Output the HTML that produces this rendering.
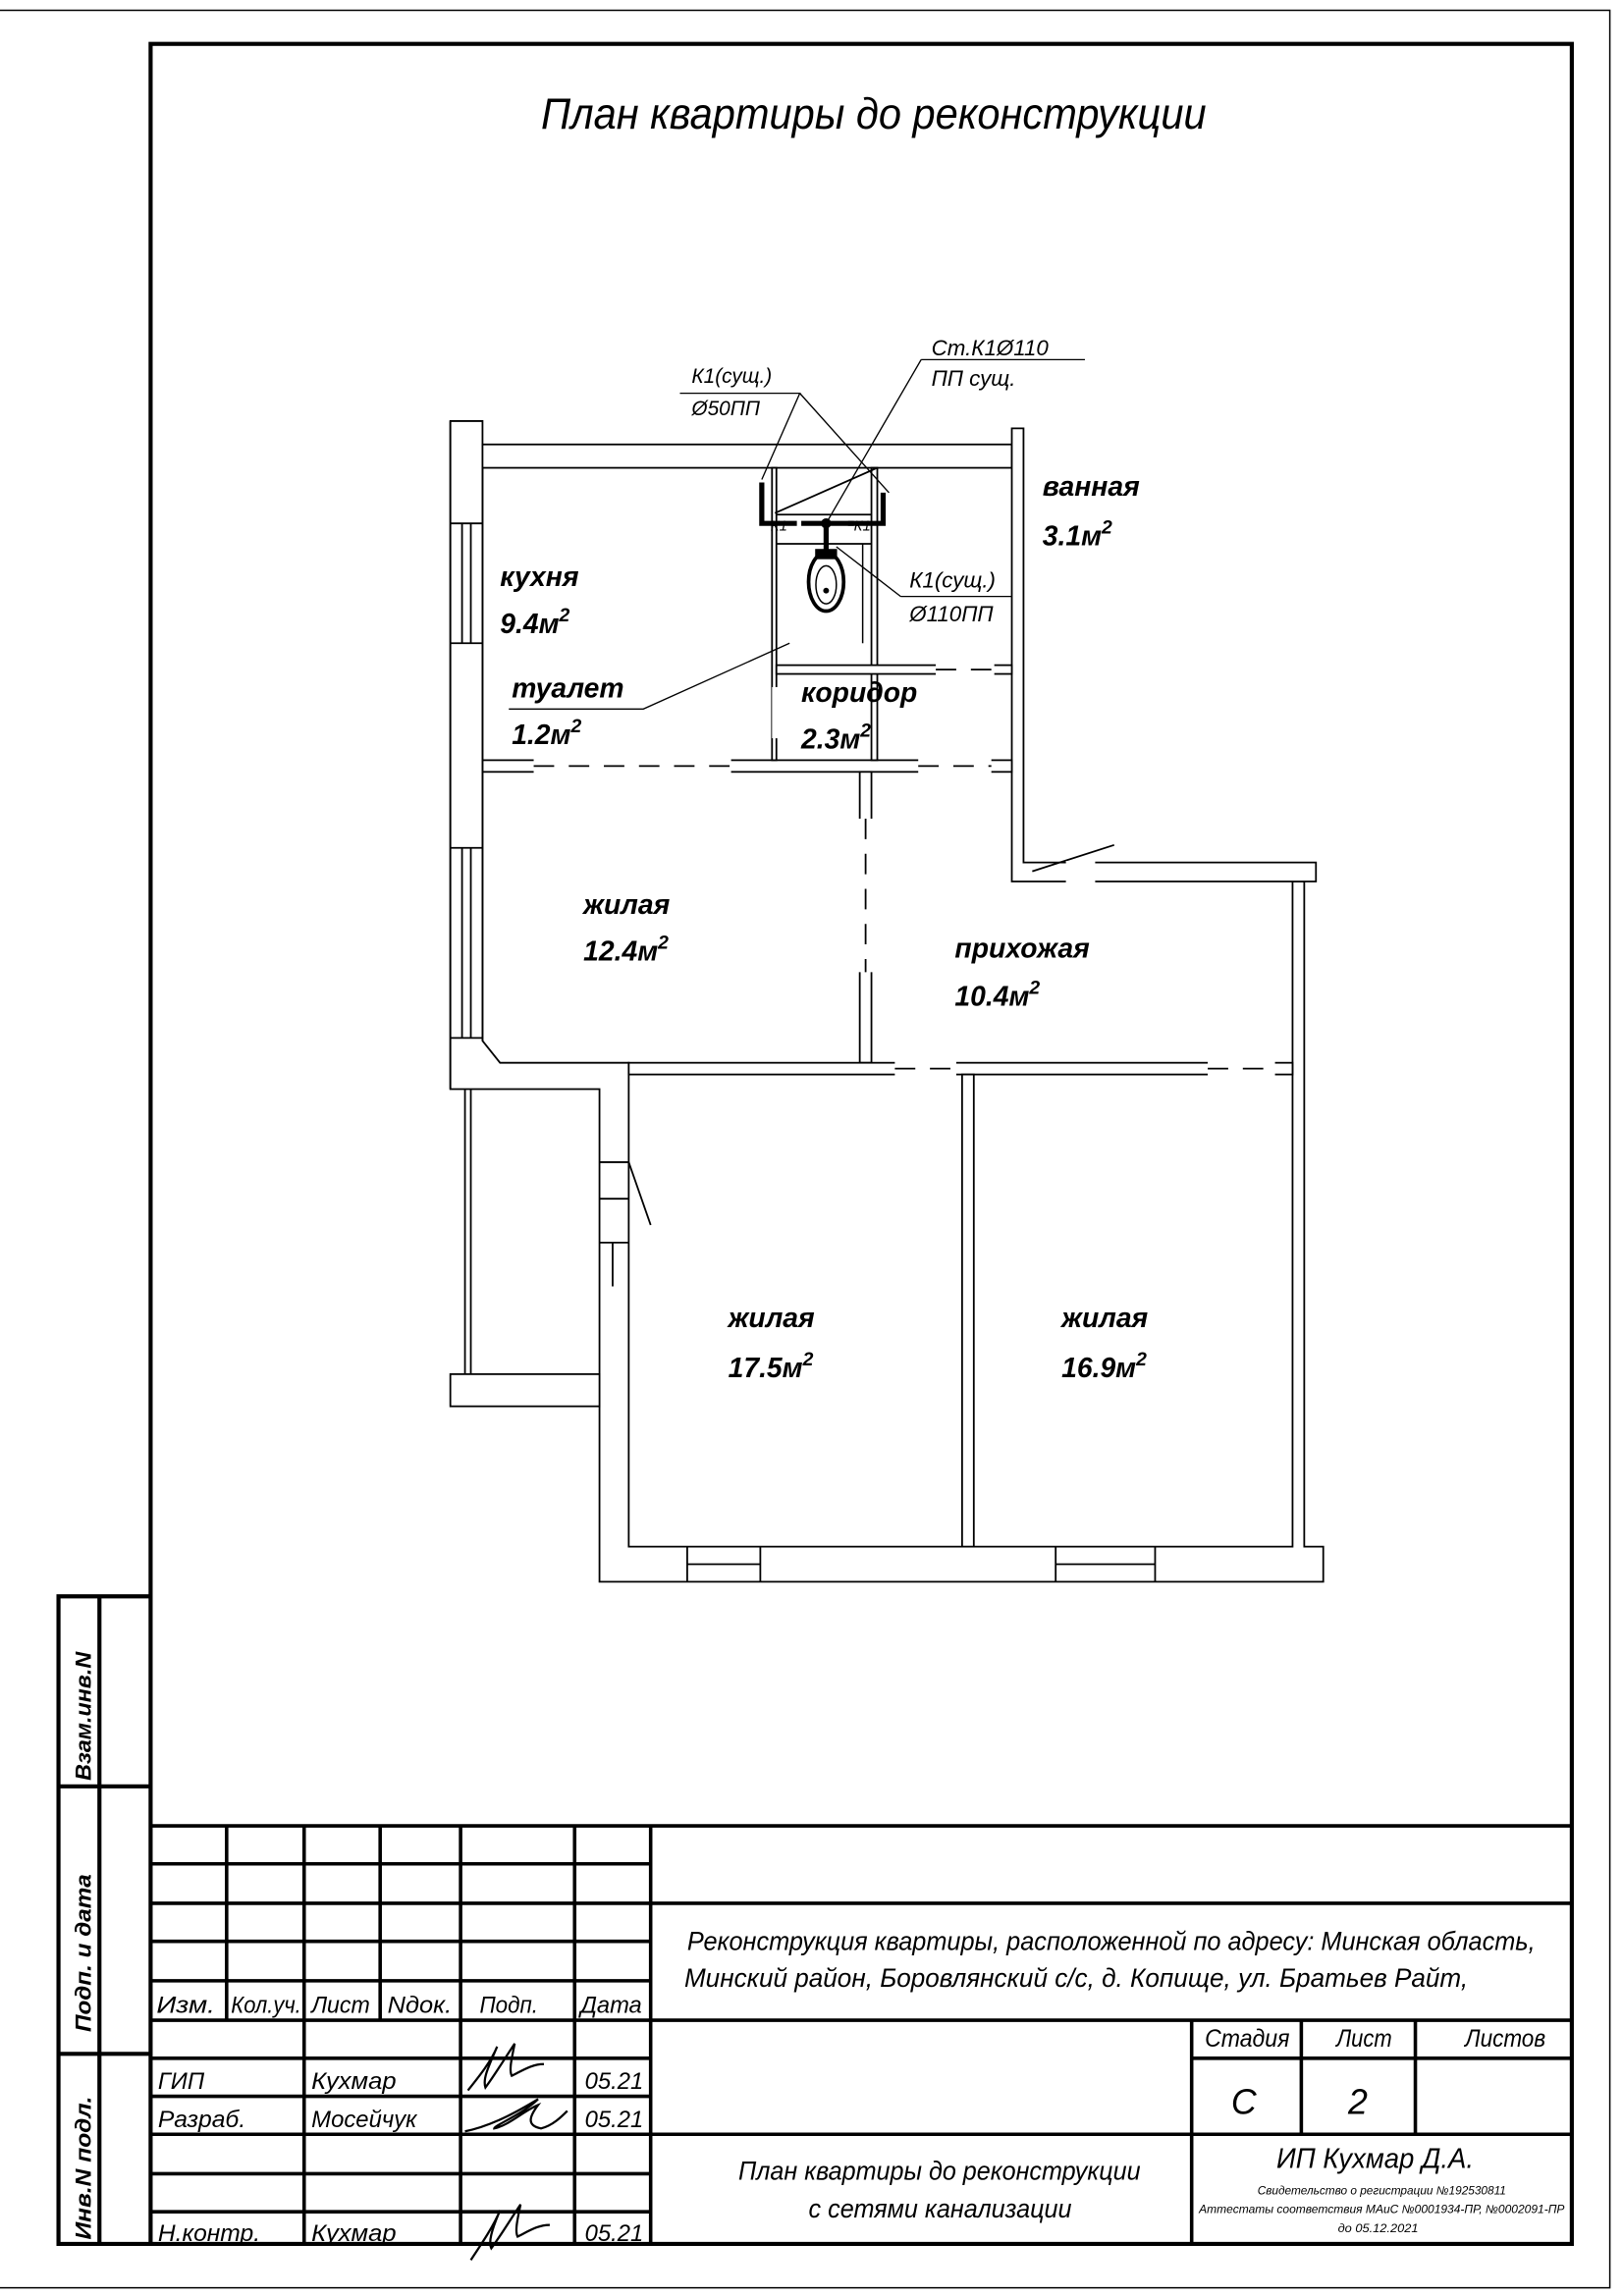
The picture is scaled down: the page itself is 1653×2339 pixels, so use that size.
<!DOCTYPE html>
<html><head><meta charset="utf-8"><style>
html,body{margin:0;padding:0;background:#fff}
svg{display:block}
text{font-family:"Liberation Sans Narrow","Liberation Sans",sans-serif;font-style:italic;fill:#000}
.r{font-size:19px;font-weight:bold}
.n{font-family:"Liberation Sans",sans-serif;font-style:italic;font-size:14px}
.t{font-size:15px}
</style></head><body>
<svg width="1653" height="2339" viewBox="0 0 1110 1570.6" xmlns="http://www.w3.org/2000/svg">
<rect width="1110" height="1571" fill="#fff"/>
<g fill="none" stroke="#000">
<path d="M0 7H1101V1565H0" stroke-width="1"/>
<rect x="103" y="30" width="972" height="1505" stroke-width="2.8"/>
<path d="M103 1092H40V1535H103M68 1092V1535M40 1222H103M40 1405H103" stroke-width="2.8"/>
<g stroke-width="2.4">
<path d="M103 1249H1075"/>
<path d="M103 1275H445M103 1302H1075M103 1328H445M103 1355H445M103 1382H1075"/>
<path d="M103 1408H445M103 1434H445M103 1460H1075M103 1487H445M103 1513H445"/>
<path d="M155 1249V1382M260 1249V1382M208 1249V1535M315 1249V1535M393 1249V1535M445 1249V1535"/>
<path d="M815 1382V1535M890 1382V1460M968 1382V1460M815 1408H1075"/>
</g>
<path d="M320 1430c8-10 16-20 20-30-6 14-10 22-8 28 6-8 12-18 20-30 -2 10-4 18-2 22 8-4 14-8 22-8" stroke-width="1.5"/>
<path d="M318 1458c20-4 40-16 50-22-10 10-30 18-30 20 10-2 20-12 30-16-6 8-8 14 2 16 8-2 14-8 18-12" stroke-width="1.5"/>
<path d="M322 1546c8-12 16-24 20-34-6 14-8 22-6 26 6-8 12-18 20-30 -2 10-4 18-2 22 8-4 14-8 22-8" stroke-width="1.5"/>
</g>

<g fill="#fff" stroke="#000" stroke-width="1.2">
<path d="M308 288H330V712L342 727H430V735H430V1058L445 1058H884V603H892V1058H905V1082H410V745H308Z"/>
<rect x="330" y="304" width="362" height="16"/>
<path d="M692 293H700V590H900V603H692Z"/>
<rect x="330" y="520" width="362" height="8"/>
<rect x="588" y="528" width="8" height="199"/>
<rect x="430" y="727" width="454" height="8"/>
<rect x="658" y="735" width="8" height="323"/>
<rect x="528" y="320" width="3" height="200"/>
<rect x="596" y="320" width="4" height="200"/>
<rect x="531" y="455" width="161" height="6"/>
</g>
<g stroke="#000" fill="none" stroke-width="1.2">
<path d="M308 745V288M330 320V712"/>
<path d="M316 358V440M322 358V440M316 580V710M322 580V710M308 358H330M308 440H330M308 580H330M308 710H330"/>
<path d="M318 745V940M322 745V940"/>
<rect x="308" y="940" width="102" height="22" fill="#fff"/>
<path d="M410 795H430M410 820H430M410 850H430M419 850V880M430 795L445 838"/>
<path d="M470 1058V1082M520 1058V1082M722 1058V1082M790 1058V1082M470 1070H520M722 1070H790"/>
<path d="M531 352H596M531 372H596M530 351L600 320"/>
<path d="M590 372V440" stroke-width="1"/>
<path d="M706 596L762 578"/>
</g>
<g fill="#fff" stroke="none">
<rect x="365" y="519" width="135" height="10"/>
<rect x="628" y="519" width="50" height="10"/>
<rect x="587" y="560" width="10" height="105"/>
<rect x="612" y="726" width="42" height="10"/>
<rect x="826" y="726" width="46" height="10"/>
<rect x="729" y="589" width="20" height="15"/>
<rect x="640" y="454" width="40" height="8"/>
<rect x="528" y="470" width="4" height="35"/>
</g>
<g stroke="#000" stroke-width="1.2" stroke-dasharray="14 10" fill="none">
<path d="M365 524H500M628 524H678M592 560V665M612 731H654M826 731H872M640 458H680"/>
</g>
<g stroke="#000" fill="none">
<path d="M521 330V358H545M604 337V358H580" stroke-width="3.5"/>
<path d="M548 358H584M565 358V378" stroke-width="3.5"/>
<circle cx="565" cy="358" r="3" fill="#000"/>
<ellipse cx="565" cy="398" rx="12" ry="20" stroke-width="2.5" fill="#fff"/>
<ellipse cx="565" cy="400" rx="7" ry="13" stroke-width="1"/>
<rect x="558" y="376" width="14" height="6" fill="#000"/>
<circle cx="565" cy="404" r="1.5" fill="#000"/>
<g stroke-width="0.9">
<path d="M465 269H547L521 328M547 269L608 337"/>
<path d="M630 246H742M630 246L565 358"/>
<path d="M616 408H692M616 408L572 374"/>
<path d="M348 485H440L540 440"/>
</g>
</g>
<text x="527" y="363" class="n" style="font-size:10px" fill="#555">К1</text>
<text x="584" y="363" class="n" style="font-size:10px" fill="#555">К1</text>
<text x="473" y="262" class="n">К1(сущ.)</text>
<text x="473" y="284" class="n">Ø50ПП</text>
<text x="637" y="243" class="n" style="font-size:15px">Ст.К1Ø110</text>
<text x="637" y="264" class="n" style="font-size:15px">ПП сущ.</text>
<text x="622" y="402" class="n" style="font-size:15px">К1(сущ.)</text>
<text x="622" y="425" class="n" style="font-size:15px">Ø110ПП</text>

<text class="r" x="713" y="339">ванная</text><text class="r" x="713" y="373">3.1м<tspan dy="-8" font-size="13">2</tspan></text>
<text class="r" x="342" y="401">кухня</text><text class="r" x="342" y="433">9.4м<tspan dy="-8" font-size="13">2</tspan></text>
<text class="r" x="350" y="477">туалет</text><text class="r" x="350" y="509">1.2м<tspan dy="-8" font-size="13">2</tspan></text>
<text class="r" x="548" y="480">коридор</text><text class="r" x="548" y="512">2.3м<tspan dy="-8" font-size="13">2</tspan></text>
<text class="r" x="399" y="625">жилая</text><text class="r" x="399" y="657">12.4м<tspan dy="-8" font-size="13">2</tspan></text>
<text class="r" x="653" y="655">прихожая</text><text class="r" x="653" y="688">10.4м<tspan dy="-8" font-size="13">2</tspan></text>
<text class="r" x="498" y="908">жилая</text><text class="r" x="498" y="942">17.5м<tspan dy="-8" font-size="13">2</tspan></text>
<text class="r" x="726" y="908">жилая</text><text class="r" x="726" y="942">16.9м<tspan dy="-8" font-size="13">2</tspan></text>

<text x="370" y="88" font-size="30" textLength="455" lengthAdjust="spacingAndGlyphs">План квартиры до  реконструкции</text>

<text transform="translate(62 1218) rotate(-90)" font-size="15" font-weight="bold" textLength="88" lengthAdjust="spacingAndGlyphs">Взам.инв.N</text>
<text transform="translate(62 1390) rotate(-90)" font-size="15" font-weight="bold" textLength="108" lengthAdjust="spacingAndGlyphs">Подп.  и  дата</text>
<text transform="translate(62 1532) rotate(-90)" font-size="15" font-weight="bold" textLength="98" lengthAdjust="spacingAndGlyphs">Инв.N подл.</text>

<g class="t">
<text x="107" y="1377" textLength="40" lengthAdjust="spacingAndGlyphs" font-size="16">Изм.</text>
<text x="158" y="1377" textLength="48" lengthAdjust="spacingAndGlyphs" font-size="16">Кол.уч.</text>
<text x="213" y="1377" textLength="40" lengthAdjust="spacingAndGlyphs" font-size="16">Лист</text>
<text x="265" y="1377" textLength="44" lengthAdjust="spacingAndGlyphs" font-size="16">Nдок.</text>
<text x="328" y="1377" textLength="40" lengthAdjust="spacingAndGlyphs" font-size="16">Подп.</text>
<text x="397" y="1377" textLength="42" lengthAdjust="spacingAndGlyphs" font-size="16">Дата</text>
<text x="108" y="1429" font-size="16">ГИП</text>
<text x="213" y="1429" font-size="16" textLength="58" lengthAdjust="spacingAndGlyphs">Кухмар</text>
<text x="400" y="1429" font-size="16">05.21</text>
<text x="108" y="1455" font-size="16" textLength="60" lengthAdjust="spacingAndGlyphs">Разраб.</text>
<text x="213" y="1455" font-size="16" textLength="72" lengthAdjust="spacingAndGlyphs">Мосейчук</text>
<text x="400" y="1455" font-size="16">05.21</text>
<text x="108" y="1533" font-size="16" textLength="70" lengthAdjust="spacingAndGlyphs">Н.контр.</text>
<text x="213" y="1533" font-size="16" textLength="58" lengthAdjust="spacingAndGlyphs">Кухмар</text>
<text x="400" y="1533" font-size="16">05.21</text>
<text x="470" y="1334" font-size="18" textLength="580" lengthAdjust="spacingAndGlyphs">Реконструкция квартиры, расположенной по адресу: Минская область,</text>
<text x="468" y="1359" font-size="18" textLength="536" lengthAdjust="spacingAndGlyphs">Минский район, Боровлянский с/с, д. Копище, ул. Братьев Райт,</text>
<text x="824" y="1400" font-size="17" textLength="58" lengthAdjust="spacingAndGlyphs">Стадия</text>
<text x="914" y="1400" font-size="17" textLength="38" lengthAdjust="spacingAndGlyphs">Лист</text>
<text x="1002" y="1400" font-size="17" textLength="55" lengthAdjust="spacingAndGlyphs">Листов</text>
<text x="842" y="1446" font-size="24">С</text>
<text x="922" y="1446" font-size="24">2</text>
<text x="505" y="1491" font-size="18" textLength="275" lengthAdjust="spacingAndGlyphs">План квартиры до  реконструкции</text>
<text x="553" y="1517" font-size="18" textLength="180" lengthAdjust="spacingAndGlyphs">с сетями канализации</text>
<text x="873" y="1483" font-size="19" textLength="135" lengthAdjust="spacingAndGlyphs">ИП Кухмар Д.А.</text>
<text x="860" y="1501" font-size="8" textLength="170" lengthAdjust="spacingAndGlyphs">Свидетельство о регистрации №192530811</text>
<text x="820" y="1514" font-size="8" textLength="250" lengthAdjust="spacingAndGlyphs">Аттестаты соответствия МАиС №0001934-ПР, №0002091-ПР</text>
<text x="915" y="1527" font-size="8" textLength="55" lengthAdjust="spacingAndGlyphs">до 05.12.2021</text>
</g>
</svg>
</body></html>
